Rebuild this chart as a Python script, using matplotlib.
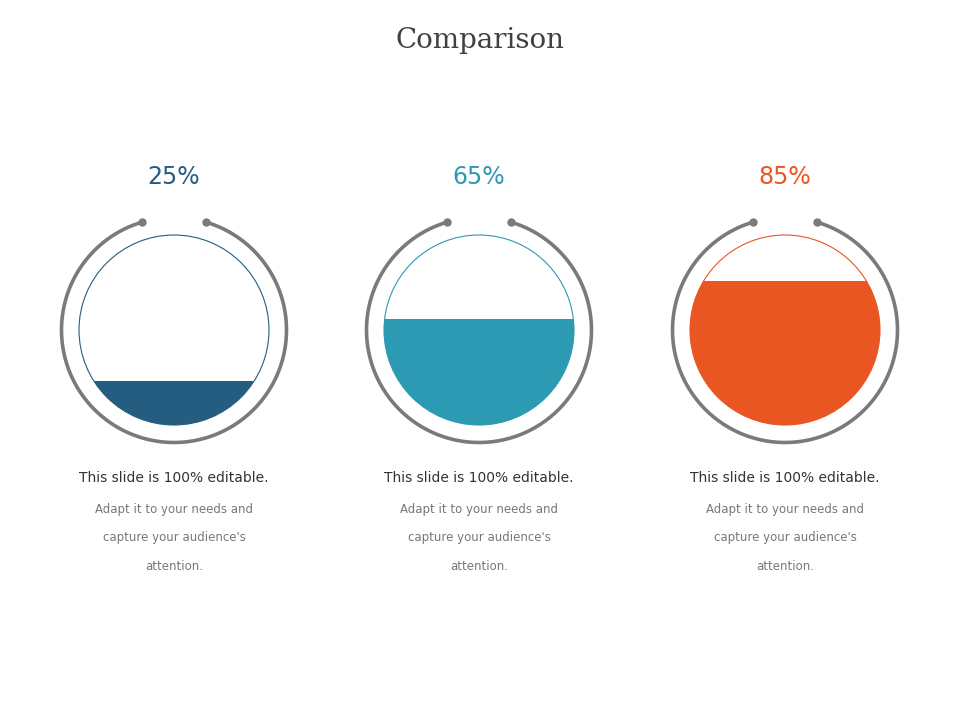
import numpy as np
import matplotlib.pyplot as plt
from matplotlib.patches import Circle, Rectangle

# chart data
labels = ["25%", "65%", "85%"]
fill_levels = [0.23, 0.56, 0.76]   # filled share of the inner circle height
colors = ["#255d80", "#2c9ab3", "#ea5622"]
head = "This slide is 100% editable."
body = ["Adapt it to your needs and", "capture your audience's", "attention."]

fig = plt.figure(figsize=(9.6, 7.2), dpi=100)
ax = fig.add_axes([0, 0, 1, 1])
ax.set_xlim(0, 960)
ax.set_ylim(720, 0)
ax.axis("off")

ax.text(480, 40, "Comparison", ha="center", va="center", fontsize=20,
        family="DejaVu Serif", color="#404040")

centers = [174, 479, 785]
cy = 330
R_out, R_in = 112.5, 95
gap = np.radians(16.5)
for cx, lab, lvl, col in zip(centers, labels, fill_levels, colors):
    # outer gray ring with gap at top
    t = np.linspace(np.pi / 2 + gap, np.pi / 2 + 2 * np.pi - gap, 300)
    xs = cx + R_out * np.cos(t)
    ys = cy - R_out * np.sin(t)
    ax.plot(xs, ys, color="#7a7a7a", lw=2.6, solid_capstyle="round")
    ax.plot([xs[0], xs[-1]], [ys[0], ys[-1]], "o", color="#7a7a7a", ms=5)

    circ = Circle((cx, cy), R_in, facecolor="white", edgecolor=col, lw=0.8)
    ax.add_patch(circ)
    top = cy + R_in - 2 * R_in * lvl
    rect = Rectangle((cx - R_in, top), 2 * R_in, 2 * R_in * lvl, facecolor=col,
                     edgecolor="none")
    ax.add_patch(rect)
    rect.set_clip_path(circ)

    ax.text(cx, 177, lab, ha="center", va="center", fontsize=17, color=col)
    ax.text(cx, 478, head, ha="center", va="center", fontsize=10, color="#333333")
    for i, line in enumerate(body):
        ax.text(cx, 509 + 29 * i, line, ha="center", va="center", fontsize=8.5,
                color="#777777")

fig.savefig("out.png", dpi=100, facecolor="white")
